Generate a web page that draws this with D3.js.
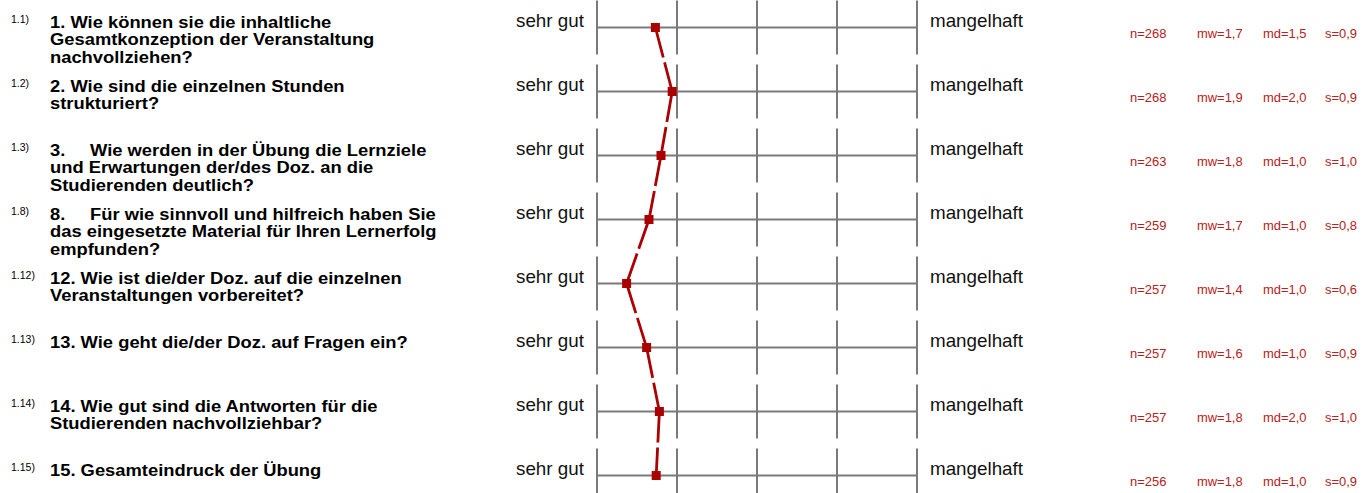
<!DOCTYPE html>
<html>
<head>
<meta charset="utf-8">
<script src="https://cdn.jsdelivr.net/npm/d3@7"></script>
<style>
  html, body { margin: 0; padding: 0; background: #fff; }
  svg { display: block; font-family: "Liberation Sans", Arial, sans-serif; }
</style>
</head>
<body>
<svg id="chart" width="1366" height="493"></svg>
<script>
// ---- data ----
const codes = ["1.1)", "1.2)", "1.3)", "1.8)", "1.12)", "1.13)", "1.14)", "1.15)"];
const questionNumbers = ["1.", "2.", "3.", "8.", "12.", "13.", "14.", "15."];
const questionLines = [
  ["Wie können sie die inhaltliche", "Gesamtkonzeption der Veranstaltung", "nachvollziehen?"],
  ["Wie sind die einzelnen Stunden", "strukturiert?"],
  ["Wie werden in der Übung die Lernziele", "und Erwartungen der/des Doz. an die", "Studierenden deutlich?"],
  ["Für wie sinnvoll und hilfreich haben Sie", "das eingesetzte Material für Ihren Lernerfolg", "empfunden?"],
  ["Wie ist die/der Doz. auf die einzelnen", "Veranstaltungen vorbereitet?"],
  ["Wie geht die/der Doz. auf Fragen ein?"],
  ["Wie gut sind die Antworten für die", "Studierenden nachvollziehbar?"],
  ["Gesamteindruck der Übung"]
];
const tabbed = [false, false, true, true, false, false, false, false];
const means = [1.73, 1.94, 1.80, 1.65, 1.37, 1.62, 1.78, 1.74];
const nValues = ["268", "268", "263", "259", "257", "257", "257", "256"];
const mwValues = ["1,7", "1,9", "1,8", "1,7", "1,4", "1,6", "1,8", "1,8"];
const mdValues = ["1,5", "2,0", "1,0", "1,0", "1,0", "1,0", "2,0", "1,0"];
const sValues = ["0,9", "0,9", "1,0", "0,8", "0,6", "0,9", "1,0", "0,9"];
const scaleTicks = [1, 2, 3, 4, 5];
const leftLabel = "sehr gut";
const rightLabel = "mangelhaft";

// ---- layout ----
const svg = d3.select("#chart");
const x = d3.scaleLinear().domain([1, 5]).range([597, 917]);
const y = d3.scalePoint().domain(codes).range([27.5, 475.5]);
const gridColor = "#7a7a7a";
const lineColor = "#aa0000";
const statColor = "#b52222";

// text helper: horizontally stretched text (reference glyphs are slightly wide)
function stretchText(parent, sx, size, weight, fill) {
  return parent.append("g").attr("transform", `scale(${sx},1)`)
    .append("text").attr("font-size", size).attr("font-weight", weight).attr("fill", fill)
    .datum(sx);
}

const rows = svg.append("g").selectAll("g.row")
  .data(codes.map((c, i) => ({ code: c, i })))
  .join("g").attr("class", "row")
  .attr("transform", d => `translate(0,${y(d.code)})`);

// grid
rows.append("line")
  .attr("x1", x(1)).attr("x2", x(5)).attr("y1", 0).attr("y2", 0)
  .attr("stroke", gridColor).attr("stroke-width", 2);
rows.selectAll("line.v").data(scaleTicks).join("line").attr("class", "v")
  .attr("x1", v => x(v)).attr("x2", v => x(v))
  .attr("y1", -27).attr("y2", 27)
  .attr("stroke", gridColor).attr("stroke-width", 2);

rows.each(function (d) {
  const g = d3.select(this);
  // code superscript
  const sc = stretchText(g, 1, 10.5, "normal", "#000");
  sc.attr("x", 11).attr("y", -5).text(d.code);

  // question text
  const qs = 1.08;
  const t = stretchText(g, qs, 17, "bold", "#000");
  const lines = questionLines[d.i];
  if (tabbed[d.i]) {
    t.append("tspan").attr("x", 50 / qs).attr("y", 0).text(questionNumbers[d.i]);
    t.append("tspan").attr("x", 90 / qs).attr("y", 0).text(lines[0]);
  } else {
    t.append("tspan").attr("x", 50 / qs).attr("y", 0).text(questionNumbers[d.i] + " " + lines[0]);
  }
  lines.slice(1).forEach((l, k) => {
    t.append("tspan").attr("x", 50 / qs).attr("y", 18 * (k + 1)).text(l);
  });

  // scale labels
  const ls = 1.075;
  stretchText(g, ls, 17.5, "normal", "#111").attr("x", 516 / ls).attr("y", -1).text(leftLabel);
  stretchText(g, ls, 17.5, "normal", "#111").attr("x", 930 / ls).attr("y", -1).text(rightLabel);

  // stats
  const ss = 1.08;
  const statCols = [
    { x: 1130, s: "n=" + nValues[d.i] },
    { x: 1197, s: "mw=" + mwValues[d.i] },
    { x: 1263, s: "md=" + mdValues[d.i] },
    { x: 1325, s: "s=" + sValues[d.i] }
  ];
  statCols.forEach(c => {
    stretchText(g, ss, 12, "normal", statColor).attr("x", c.x / ss).attr("y", 10).text(c.s);
  });
});

// profile line: one dashed stroke per segment
const pts = codes.map((c, i) => [x(means[i]), y(c)]);
const segs = d3.pairs(pts);
svg.append("g").selectAll("path")
  .data(segs).join("path")
  .attr("d", s => d3.line()(s))
  .attr("fill", "none").attr("stroke", lineColor)
  .attr("stroke-width", 2.8).attr("stroke-dasharray", "31,5");

svg.append("g").selectAll("rect")
  .data(pts).join("rect")
  .attr("x", p => p[0] - 4.5).attr("y", p => p[1] - 4.5)
  .attr("width", 9).attr("height", 9)
  .attr("fill", lineColor);
</script>
</body>
</html>
